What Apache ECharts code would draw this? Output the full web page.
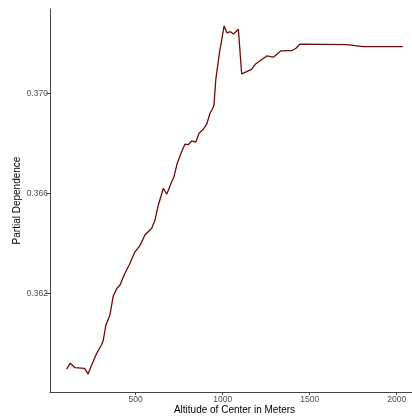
<!DOCTYPE html>
<html>
<head>
<meta charset="utf-8">
<script src="https://cdn.jsdelivr.net/npm/echarts@6/dist/echarts.min.js"></script>
<style>
  html, body { margin: 0; padding: 0; background: #fff; overflow: hidden; }
  #chart { width: 412px; height: 419px; }
</style>
</head>
<body>
<div id="chart"></div>
<script>
// altitude (m)
const altitude = [103, 124, 151, 206, 226, 247, 276, 305, 314, 329, 352, 371, 391, 410,
  436, 464, 493, 525, 553, 592, 611, 630, 659, 678, 707, 720, 739, 764, 783, 802, 822,
  845, 864, 889, 908, 927, 943, 950, 960, 981, 1008, 1025, 1044, 1062, 1090, 1109, 1138,
  1167, 1189, 1217, 1253, 1291, 1333, 1397, 1421, 1444, 1713, 1808, 2035];

// partial dependence
const pdValues = [0.35898, 0.35922, 0.35904, 0.35901, 0.35879, 0.35915, 0.35962, 0.35998,
  0.36015, 0.36075, 0.36115, 0.36191, 0.36221, 0.36235, 0.36279, 0.36317, 0.36364,
  0.36393, 0.36435, 0.36462, 0.36495, 0.36555, 0.36622, 0.36598, 0.36648, 0.36668,
  0.36722, 0.36768, 0.36798, 0.36796, 0.36811, 0.36806, 0.36842, 0.36858, 0.36878,
  0.36922, 0.36942, 0.36955, 0.37055, 0.37162, 0.37271, 0.37243, 0.37248, 0.37239,
  0.37258, 0.37079, 0.37088, 0.37098, 0.37119, 0.37133, 0.37151, 0.37146, 0.37171,
  0.37172, 0.37182, 0.37198, 0.37196, 0.37188, 0.37188];

const xTicks = [500, 1000, 1500, 2000];
const yTicks = [0.362, 0.366, 0.370];

const chart = echarts.init(document.getElementById('chart'), null, { renderer: 'canvas' });

const axisColor = '#444';
const labelStyle = { color: '#4d4d4d', fontSize: 8.5, fontFamily: 'Liberation Sans, Arial, sans-serif' };
const nameStyle = { color: '#000', fontSize: 10, fontFamily: 'Liberation Sans, Arial, sans-serif' };

chart.setOption({
  animation: false,
  grid: { left: 50, right: -7, top: 9, bottom: 27, containLabel: false, outerBoundsMode: 'none' },
  xAxis: {
    type: 'value',
    min: 7.5,
    max: 2128,
    name: 'Altitude of Center in Meters',
    nameLocation: 'middle',
    nameGap: 13,
    nameMoveOverlap: false,
    nameTextStyle: nameStyle,
    splitLine: { show: false },
    axisLine: { show: true, lineStyle: { color: axisColor, width: 1 } },
    axisTick: { show: true, length: 3, customValues: xTicks, lineStyle: { color: axisColor } },
    axisLabel: { customValues: xTicks, margin: 3, ...labelStyle, formatter: v => String(v) }
  },
  yAxis: {
    type: 'value',
    min: 0.358068,
    max: 0.373388,
    name: 'Partial Dependence',
    nameLocation: 'middle',
    nameGap: 28,
    nameMoveOverlap: false,
    nameTextStyle: nameStyle,
    splitLine: { show: false },
    axisLine: { show: true, lineStyle: { color: axisColor, width: 1 } },
    axisTick: { show: true, length: 4, customValues: yTicks, lineStyle: { color: axisColor } },
    axisLabel: {
      customValues: yTicks, margin: 2, ...labelStyle,
      formatter: v => v.toFixed(3)
    }
  },
  series: [{
    type: 'line',
    data: altitude.map((a, i) => [a, pdValues[i]]),
    showSymbol: false,
    lineStyle: { color: '#6e0a0a', width: 1.3 },
    silent: true
  }]
});
</script>
</body>
</html>
